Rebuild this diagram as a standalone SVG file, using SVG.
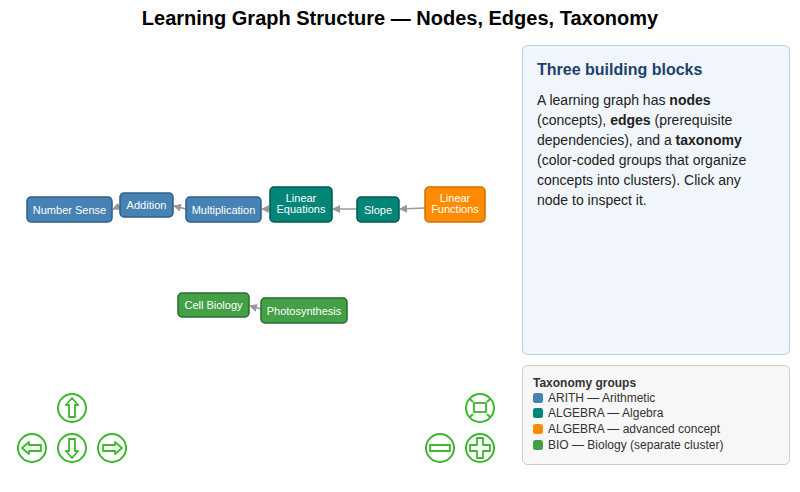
<svg xmlns="http://www.w3.org/2000/svg" width="800" height="492" viewBox="0 0 800 492">
<style>
text{font-family:"Liberation Sans",Arial,sans-serif}
.n rect{stroke-width:1.5}
.n text{fill:#fff;font-size:11px;text-anchor:middle}
.ar rect{fill:#4682b4;stroke:#2e5f8a}
.al rect{fill:#008577;stroke:#005a50}
.ad rect{fill:#ff8c00;stroke:#d07000}
.bi rect{fill:#43a047;stroke:#2a6e2e}
.e{stroke:#999;stroke-width:1.5;fill:none;marker-end:url(#a)}
.b circle{fill:#fff;stroke:#3cb82c;stroke-width:2}
.b path{fill:none;stroke:#3cb82c;stroke-width:1.8;stroke-linejoin:round}
.p{font-size:14px;fill:#222}
.l{font-size:12px;fill:#333}
</style>
<defs><marker id="a" markerWidth="8" markerHeight="8" refX="7" refY="4" orient="auto" markerUnits="userSpaceOnUse"><path d="M0,0L8,4L0,8z" fill="#999"/></marker></defs>
<rect width="800" height="492" fill="#fff"/>
<text x="400" y="25" text-anchor="middle" font-size="20" font-weight="bold" fill="#000">Learning Graph Structure — Nodes, Edges, Taxonomy</text>
<g id="edges">
<line class="e" x1="120" y1="206" x2="113" y2="209"/>
<line class="e" x1="186" y1="209" x2="174" y2="206"/>
<line class="e" x1="270" y1="209" x2="262" y2="209"/>
<line class="e" x1="357" y1="209" x2="333" y2="209"/>
<line class="e" x1="425" y1="208" x2="400" y2="209"/>
<line class="e" x1="261" y1="309" x2="250" y2="306"/>
</g>
<g id="n-number" class="n ar"><rect x="27" y="197" width="85" height="25" rx="4"/><text x="69.5" y="213.5">Number Sense</text></g>
<g id="n-addition" class="n ar"><rect x="120" y="193" width="53" height="24" rx="4"/><text x="146.5" y="209">Addition</text></g>
<g id="n-mult" class="n ar"><rect x="186" y="197" width="75" height="25" rx="4"/><text x="223.5" y="213.5">Multiplication</text></g>
<g id="n-lineq" class="n al"><rect x="270" y="187" width="62" height="35" rx="4"/><text x="301" y="202">Linear</text><text x="301" y="213">Equations</text></g>
<g id="n-slope" class="n al"><rect x="357" y="197" width="42" height="25" rx="4"/><text x="378" y="213.5">Slope</text></g>
<g id="n-linfn" class="n ad"><rect x="425" y="187" width="60" height="35" rx="4"/><text x="455" y="202">Linear</text><text x="455" y="213">Functions</text></g>
<g id="n-cell" class="n bi"><rect x="178" y="293" width="71" height="24" rx="4"/><text x="213.5" y="309">Cell Biology</text></g>
<g id="n-photo" class="n bi"><rect x="261" y="298" width="86" height="25" rx="4"/><text x="304" y="314.5">Photosynthesis</text></g>
<g id="info">
<rect x="522.5" y="45.5" width="267" height="309" rx="5" fill="#f0f6fb" stroke="#b8cfe0"/>
<text x="537" y="75" font-size="16" font-weight="bold" fill="#1f3f6e">Three building blocks</text>
<text class="p" x="537" y="105">A learning graph has <tspan font-weight="bold">nodes</tspan></text>
<text class="p" x="537" y="125">(concepts), <tspan font-weight="bold">edges</tspan> (prerequisite</text>
<text class="p" x="537" y="145">dependencies), and a <tspan font-weight="bold">taxonomy</tspan></text>
<text class="p" x="537" y="165">(color-coded groups that organize</text>
<text class="p" x="537" y="185">concepts into clusters). Click any</text>
<text class="p" x="537" y="205">node to inspect it.</text>
</g>
<g id="legend">
<rect x="522.5" y="365.5" width="267" height="99" rx="5" fill="#f7f7f7" stroke="#ccc"/>
<text x="533" y="387" font-size="12" font-weight="bold" fill="#333">Taxonomy groups</text>
<rect x="533" y="393" width="10" height="10" rx="2.5" fill="#4682b4"/><text class="l" x="548" y="402">ARITH — Arithmetic</text>
<rect x="533" y="408" width="10" height="10" rx="2.5" fill="#008577"/><text class="l" x="548" y="417">ALGEBRA — Algebra</text>
<rect x="533" y="424" width="10" height="10" rx="2.5" fill="#ff8c00"/><text class="l" x="548" y="433">ALGEBRA — advanced concept</text>
<rect x="533" y="440" width="10" height="10" rx="2.5" fill="#43a047"/><text class="l" x="548" y="449">BIO — Biology (separate cluster)</text>
</g>
<g id="controls">
<g class="b"><circle cx="72" cy="408" r="14"/><path d="M72,398L78,405H75V417H69V405H66Z"/></g>
<g class="b"><circle cx="32" cy="448" r="14"/><path d="M22,448L29,442V445H41V451H29V454Z"/></g>
<g class="b"><circle cx="72" cy="448" r="14"/><path d="M72,458L78,451H75V439H69V451H66Z"/></g>
<g class="b"><circle cx="112" cy="448" r="14"/><path d="M122,448L115,442V445H103V451H115V454Z"/></g>
<g class="b"><circle cx="480" cy="408" r="14"/><rect x="474" y="403" width="12" height="9" fill="none" stroke="#3cb82c" stroke-width="1.8"/><path d="M470,399L473,402M490,399L487,402M470,417L473,414M490,417L487,414" stroke="#888" stroke-width="1"/></g>
<g class="b"><circle cx="440" cy="448" r="14"/><path d="M430,445H450V451H430Z"/></g>
<g class="b"><circle cx="480" cy="448" r="14"/><path d="M477,438H483V445H490V451H483V458H477V451H470V445H477Z"/></g>
</g>
</svg>
